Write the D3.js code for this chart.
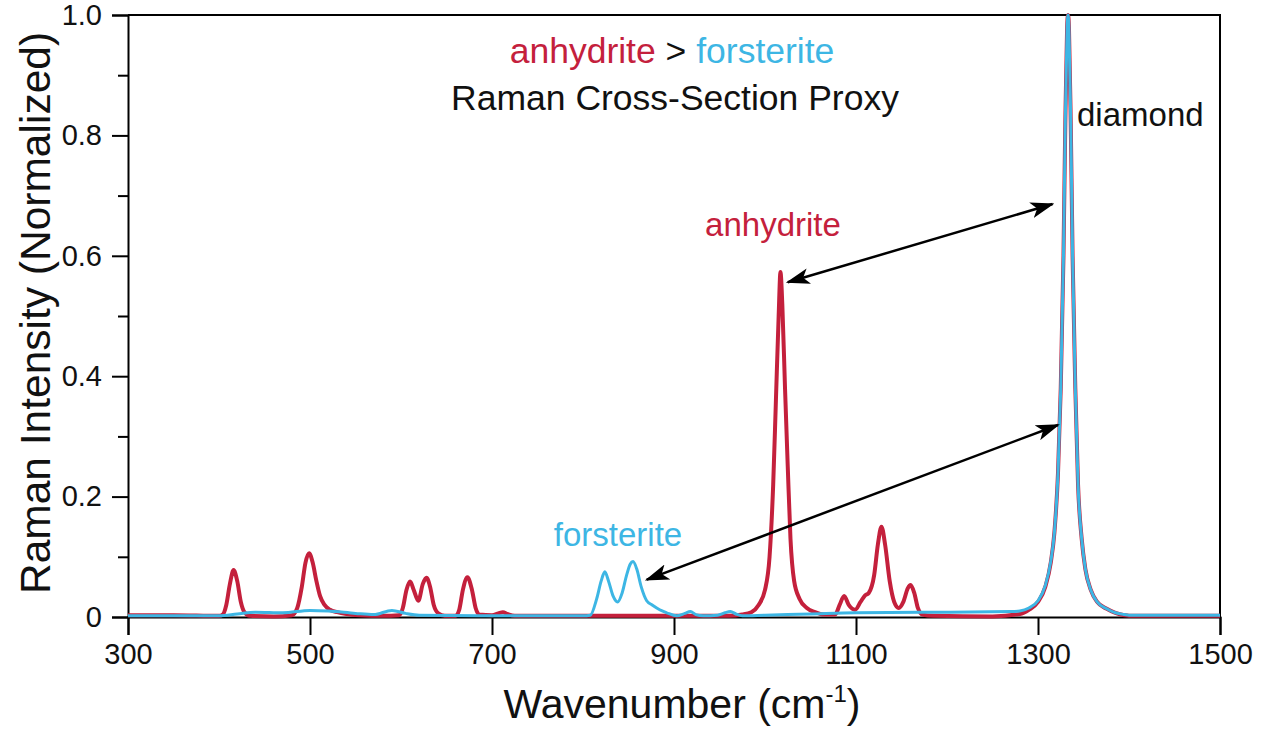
<!DOCTYPE html>
<html>
<head>
  <title>Raman cross-section proxy</title>
  <meta charset="utf-8" />
  <script src="https://d3js.org/d3.v7.min.js"></script>
  <style>
  body { margin:0; background:#fff; }
  text { font-family: "Liberation Sans", Arial, Helvetica, sans-serif; }
  </style>
</head>
<body>
  <script>
  // values: wavenumber (cm-1) and normalized intensity
  var anhWn = [300,350,400,404,408,412,416,420,424,428,434,460,480,486,491,495,499,503,507,511,516,522,530,540,555,580,
    598,602,606,610,614,619,624,628,632,636,641,648,660,664,668,673,678,682,686,700,707,712,717,725,800,900,960,975,985,993,
    1000,1005,1009,1012,1015,1017,1019,1022,1025,1028,1032,1038,1046,1055,1065,1077,1082,1087,1092,1099,1105,1110,1114,
    1120,1124,1128,1132,1137,1142,1147,1152,1157,1160,1164,1168,1173,1185,1250,1280,1290,1300,1308,1314,1318,1322,1325,
    1328,1330,1332,1333,1334,1336,1338,1341,1344,1348,1352,1358,1365,1375,1385,1395,1400,1450,1500];
  var anhI = [0.003,0.003,0.002,0.004,0.02,0.055,0.078,0.06,0.025,0.008,0.002,0.001,0.003,0.015,0.05,0.09,0.106,0.09,0.06,
    0.035,0.02,0.012,0.008,0.005,0.003,0.002,0.003,0.015,0.045,0.059,0.045,0.027,0.055,0.065,0.05,0.02,0.006,0.002,0.002,
    0.012,0.045,0.066,0.045,0.015,0.004,0.003,0.006,0.008,0.005,0.002,0.002,0.002,0.002,0.004,0.008,0.02,0.045,0.10,0.22,
    0.36,0.50,0.573,0.52,0.38,0.25,0.13,0.06,0.03,0.015,0.008,0.004,0.004,0.02,0.035,0.02,0.012,0.025,0.036,0.04,0.07,
    0.12,0.15,0.12,0.06,0.025,0.015,0.025,0.048,0.053,0.04,0.015,0.004,0.002,0.001,0.005,0.012,0.025,0.05,0.09,0.14,0.24,
    0.38,0.6,0.82,0.98,1.0,0.98,0.82,0.6,0.38,0.22,0.13,0.08,0.045,0.025,0.014,0.007,0.003,0.002,0.002,0.002];

  var forWn = [300,400,420,440,470,500,520,550,570,590,605,620,700,800,808,815,820,824,828,833,838,843,848,852,855,859,
    864,870,876,881,887,892,903,912,918,924,932,948,956,962,968,975,1000,1050,1100,1200,1270,1280,1290,1300,1308,1314,
    1318,1322,1325,1328,1330,1332,1333,1334,1336,1338,1341,1344,1348,1352,1358,1365,1375,1385,1395,1400,1450,1500];
  var forI = [0.002,0.002,0.005,0.008,0.007,0.011,0.01,0.006,0.004,0.011,0.006,0.003,0.002,0.002,0.003,0.03,0.06,0.075,
    0.06,0.035,0.025,0.04,0.07,0.088,0.092,0.08,0.05,0.027,0.02,0.015,0.01,0.007,0.002,0.006,0.009,0.004,0.002,0.003,
    0.007,0.009,0.005,0.002,0.003,0.005,0.007,0.008,0.009,0.01,0.015,0.027,0.052,0.092,0.14,0.24,0.38,0.6,0.82,0.98,1.0,
    0.98,0.82,0.6,0.38,0.22,0.13,0.08,0.045,0.025,0.014,0.007,0.004,0.003,0.003,0.003];

  var xTicks = [300,500,700,900,1100,1300,1500];
  var yTicks = [0,0.2,0.4,0.6,0.8,1.0];
  var yMinor = [0.1,0.3,0.5,0.7,0.9];

  // arrows: [x1, y1, x2, y2] in data units
  var arrows = [[1025,0.556,1316,0.686],[870,0.062,1322,0.319]];

  var red = "#c4203c", blue = "#3db6e4";

  var W = 1271, H = 732;
  var m = {left:128, right:51, top:15, bottom:115};

  var svg = d3.select("body").append("svg")
    .attr("width", W)
    .attr("height", H);

  var x = d3.scaleLinear().domain([300,1500]).range([m.left, W - m.right]);
  var y = d3.scaleLinear().domain([0,1]).range([H - m.bottom, m.top]);

  // frame top + right
  svg.append("path")
    .attr("d", "M" + x(300) + "," + y(1) + "H" + x(1500) + "V" + y(0))
    .attr("fill","none").attr("stroke","#000").attr("stroke-width",2);

  svg.append("g")
    .attr("transform","translate(0," + y(0) + ")")
    .call(d3.axisBottom(x).tickValues(xTicks).tickSize(18).tickPadding(8).tickFormat(d3.format("d")));
  svg.append("g")
    .attr("transform","translate(" + x(300) + ",0)")
    .call(d3.axisLeft(y).tickValues(yTicks).tickSize(16).tickPadding(10)
      .tickFormat(function(d){ return d === 0 ? "0" : d3.format(".1f")(d); }));
  svg.append("g")
    .attr("transform","translate(" + x(300) + ",0)")
    .call(d3.axisLeft(y).tickValues(yMinor).tickSize(10).tickFormat(""))
    .select(".domain").remove();

  svg.selectAll(".domain").attr("stroke-width",2).attr("stroke","#000");
  svg.selectAll(".tick line").attr("stroke-width",2).attr("stroke","#000");
  svg.selectAll(".tick text").attr("font-size",29).attr("fill","#111")
    .style("font-family","'Liberation Sans', Arial, sans-serif");

  var line = d3.line()
    .x(function(d){ return x(d[0]); })
    .y(function(d){ return y(d[1]); })
    .curve(d3.curveMonotoneX);

  svg.append("path")
    .datum(d3.zip(anhWn, anhI))
    .attr("d", line)
    .attr("fill","none").attr("stroke",red).attr("stroke-width",4)
    .attr("stroke-linejoin","round");
  svg.append("path")
    .datum(d3.zip(forWn, forI))
    .attr("d", line)
    .attr("fill","none").attr("stroke",blue).attr("stroke-width",3)
    .attr("stroke-linejoin","round");

  // double-headed arrows
  var defs = svg.append("defs");
  defs.append("marker")
    .attr("id","head")
    .attr("viewBox","0 0 24 16")
    .attr("refX",22).attr("refY",8)
    .attr("markerWidth",24).attr("markerHeight",16)
    .attr("markerUnits","userSpaceOnUse")
    .attr("orient","auto-start-reverse")
    .append("path").attr("d","M0,0L24,8L0,16L6,8Z").attr("fill","#000");

  svg.selectAll(".arrow")
    .data(arrows)
    .enter().append("line")
    .attr("class","arrow")
    .attr("x1",function(d){ return x(d[0]); })
    .attr("y1",function(d){ return y(d[1]); })
    .attr("x2",function(d){ return x(d[2]); })
    .attr("y2",function(d){ return y(d[3]); })
    .attr("stroke","#000").attr("stroke-width",2.5)
    .attr("marker-start","url(#head)").attr("marker-end","url(#head)");

  // text labels
  var t1 = svg.append("text").attr("x",672).attr("y",63).attr("text-anchor","middle").attr("font-size",35.5);
  t1.append("tspan").attr("fill",red).text("anhydrite");
  t1.append("tspan").attr("fill","#111").text(" > ");
  t1.append("tspan").attr("fill",blue).text("forsterite");

  svg.append("text").attr("x",675).attr("y",110).attr("text-anchor","middle")
    .attr("font-size",35.5).attr("fill","#111").text("Raman Cross-Section Proxy");

  svg.append("text").attr("x",1077).attr("y",126).attr("font-size",33).attr("fill","#111").text("diamond");
  svg.append("text").attr("x",773).attr("y",236).attr("text-anchor","middle")
    .attr("font-size",33).attr("fill",red).text("anhydrite");
  svg.append("text").attr("x",618).attr("y",546).attr("text-anchor","middle")
    .attr("font-size",33).attr("fill",blue).text("forsterite");

  // axis titles
  var xt = svg.append("text").attr("x",682).attr("y",718).attr("text-anchor","middle")
    .attr("font-size",41).attr("fill","#111");
  xt.append("tspan").text("Wavenumber (cm");
  xt.append("tspan").attr("font-size",24).attr("dy",-16).text("-1");
  xt.append("tspan").attr("dy",16).text(")");

  svg.append("text")
    .attr("transform","translate(50,313) rotate(-90)")
    .attr("text-anchor","middle")
    .attr("font-size",42.5).attr("fill","#111")
    .text("Raman Intensity (Normalized)");
  </script>
</body>
</html>
